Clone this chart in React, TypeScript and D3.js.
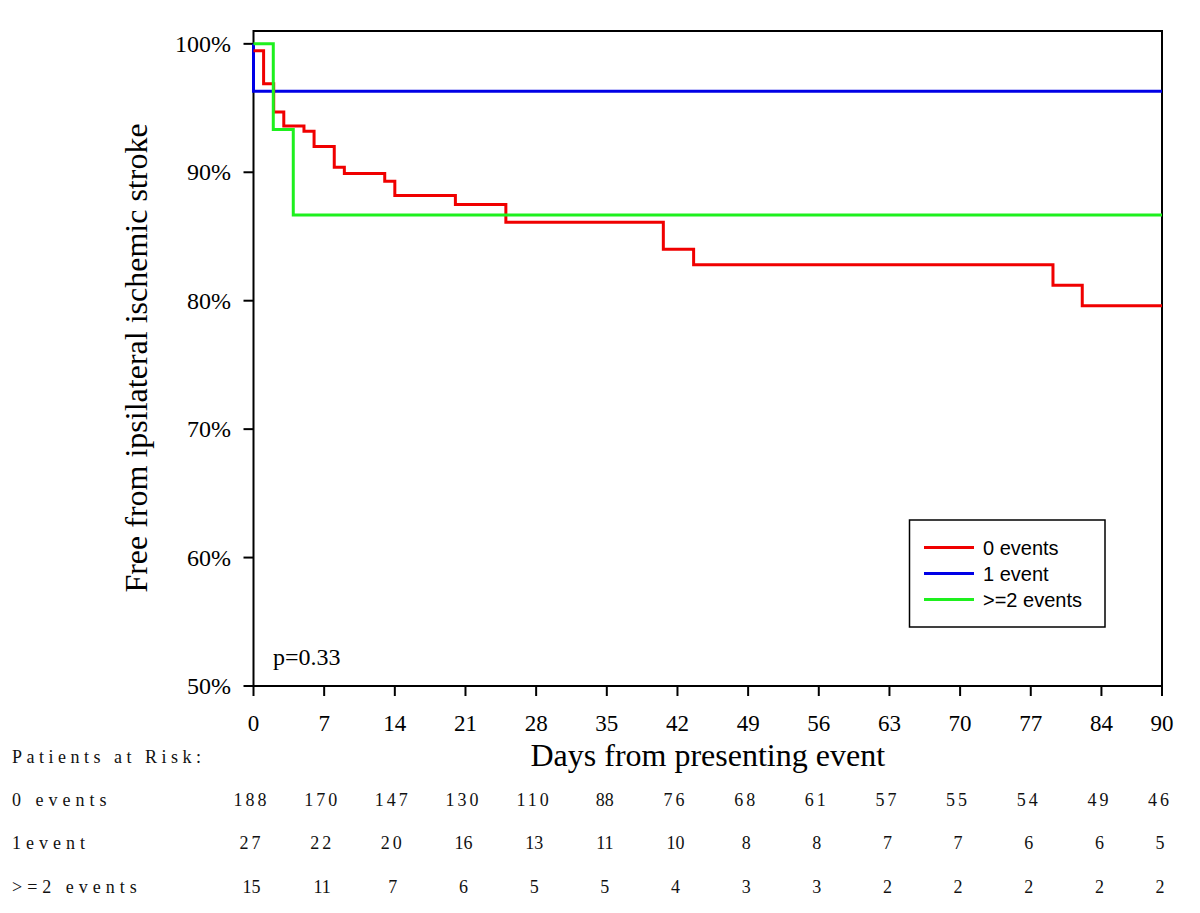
import React from "react";
import * as d3 from "d3";

const xTicks = [0, 7, 14, 21, 28, 35, 42, 49, 56, 63, 70, 77, 84, 90];
const yTicks = [50, 60, 70, 80, 90, 100];

const seriesNames = ["0 events", "1 event", ">=2 events"];
const seriesColors = ["#f00000", "#0000e6", "#1ef01e"];

const redTimes = [0, 1, 2, 3, 5, 6, 8, 9, 13, 14, 20, 25, 40.6, 43.6, 79.2, 82.1, 90];
const redSurv = [99.47, 96.9, 94.7, 93.6, 93.2, 92.0, 90.4, 89.9, 89.3, 88.2, 87.5, 86.1, 84.0, 82.8, 81.2, 79.6, 79.6];

const blueTimes = [0, 0, 90];
const blueSurv = [100, 96.3, 96.3];

const greenTimes = [0, 1.96, 3.94, 90];
const greenSurv = [100, 93.33, 86.67, 86.67];

const riskLabels = ["0 events", "1event", ">=2 events"];
const atRisk0 = [188, 170, 147, 130, 110, 88, 76, 68, 61, 57, 55, 54, 49, 46];
const atRisk1 = [27, 22, 20, 16, 13, 11, 10, 8, 8, 7, 7, 6, 6, 5];
const atRisk2 = [15, 11, 7, 6, 5, 5, 4, 3, 3, 2, 2, 2, 2, 2];

const W = 1200;
const H = 913;
const left = 253.5;
const right = 1162;
const top = 31;
const bottom = 686;

export default function App() {
  const x = d3.scaleLinear().domain([0, 90]).range([left, right]);
  const y = d3.scaleLinear().domain([50, 101]).range([bottom, top]);
  const line = d3
    .line<[number, number]>()
    .x((d) => x(d[0]))
    .y((d) => y(d[1]))
    .curve(d3.curveStepAfter);

  const series = [
    { times: blueTimes, surv: blueSurv, color: seriesColors[1] },
    { times: redTimes, surv: redSurv, color: seriesColors[0] },
    { times: greenTimes, surv: greenSurv, color: seriesColors[2] },
  ];

  const serif = "'Liberation Serif', 'Times New Roman', serif";
  const sans = "'Liberation Sans', Arial, sans-serif";
  const riskRows = [atRisk0, atRisk1, atRisk2];
  const riskY = [800, 843, 887];

  return (
    <svg
      width={W}
      height={H}
      style={{ position: "absolute", left: 0, top: 0, background: "#fff" }}
    >
      <rect x={0} y={0} width={W} height={H} fill="#fff" />
      {/* frame */}
      <rect
        x={left}
        y={top}
        width={right - left}
        height={bottom - top}
        fill="none"
        stroke="#000"
        strokeWidth={2}
      />
      {/* y ticks */}
      {yTicks.map((t) => (
        <g key={"y" + t}>
          <line x1={left - 10} x2={left} y1={y(t)} y2={y(t)} stroke="#000" strokeWidth={2} />
          <text
            x={231}
            y={y(t)}
            textAnchor="end"
            dominantBaseline="central"
            fontFamily={serif}
            fontSize={24}
            fill="#000"
          >
            {t + "%"}
          </text>
        </g>
      ))}
      {/* x ticks */}
      {xTicks.map((t) => (
        <g key={"x" + t}>
          <line x1={x(t)} x2={x(t)} y1={bottom} y2={bottom + 10} stroke="#000" strokeWidth={2} />
          <text
            x={x(t)}
            y={723}
            textAnchor="middle"
            dominantBaseline="central"
            fontFamily={serif}
            fontSize={23}
            fill="#000"
          >
            {t}
          </text>
        </g>
      ))}
      {/* curves */}
      {series.map((s, i) => (
        <path
          key={"s" + i}
          d={line(s.times.map((t, j) => [t, s.surv[j]] as [number, number])) || ""}
          fill="none"
          stroke={s.color}
          strokeWidth={3}
        />
      ))}
      {/* axis titles */}
      <text
        x={(left + right) / 2}
        y={755}
        textAnchor="middle"
        dominantBaseline="central"
        fontFamily={serif}
        fontSize={32}
        fill="#000"
      >
        Days from presenting event
      </text>
      <text
        transform={`translate(136,358) rotate(-90)`}
        textAnchor="middle"
        dominantBaseline="central"
        fontFamily={serif}
        fontSize={32}
        fill="#000"
      >
        Free from ipsilateral ischemic stroke
      </text>
      {/* p value */}
      <text x={273} y={657} dominantBaseline="central" fontFamily={serif} fontSize={24} fill="#000">
        p=0.33
      </text>
      {/* legend */}
      <rect x={909.5} y={520} width={195.5} height={107} fill="#fff" stroke="#000" strokeWidth={1.5} />
      {seriesNames.map((n, i) => (
        <g key={"l" + i}>
          <line
            x1={924}
            x2={974}
            y1={547.5 + i * 26}
            y2={547.5 + i * 26}
            stroke={seriesColors[i]}
            strokeWidth={3}
          />
          <text
            x={983}
            y={547.5 + i * 26}
            dominantBaseline="central"
            fontFamily={sans}
            fontSize={20}
            fill="#000"
          >
            {n}
          </text>
        </g>
      ))}
      {/* at risk table */}
      <text
        x={12}
        y={757}
        dominantBaseline="central"
        fontFamily={serif}
        fontSize={18}
        letterSpacing={4.5}
        fill="#111"
      >
        Patients at Risk:
      </text>
      {riskLabels.map((lab, i) => (
        <text
          key={"rl" + i}
          x={12}
          y={riskY[i]}
          dominantBaseline="central"
          fontFamily={serif}
          fontSize={18}
          letterSpacing={5}
          fill="#111"
        >
          {lab}
        </text>
      ))}
      {riskRows.map((row, i) =>
        row.map((v, j) => (
          <text
            key={"r" + i + "-" + j}
            x={x(xTicks[j]) - 2}
            y={riskY[i]}
            textAnchor="middle"
            dominantBaseline="central"
            fontFamily={serif}
            fontSize={18}
            letterSpacing={v >= 100 || (v >= 20 && v !== 88) ? 3 : 0}
            fill="#111"
          >
            {v}
          </text>
        ))
      )}
    </svg>
  );
}
